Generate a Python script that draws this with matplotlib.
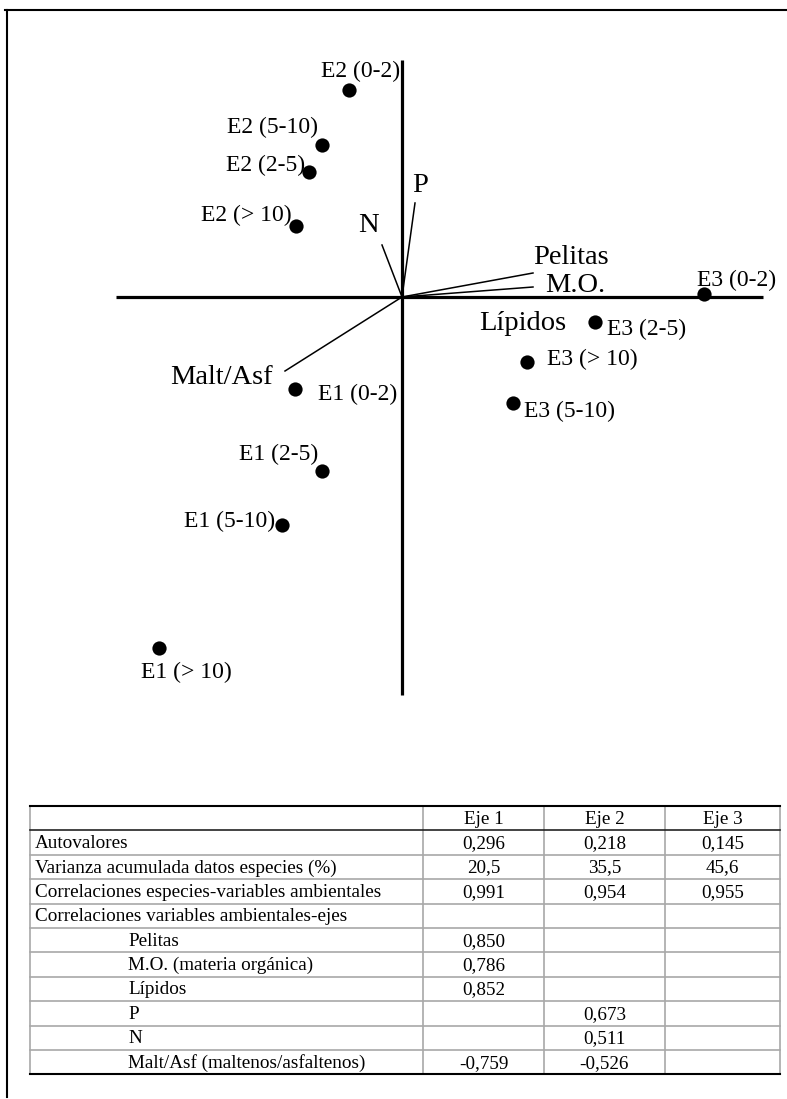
import matplotlib
matplotlib.use("Agg")
import matplotlib.pyplot as plt

plt.rcParams['font.family'] = ['Liberation Serif', 'DejaVu Serif']

# ---------------- data ----------------
site_labels = ["E2 (0-2)", "E2 (5-10)", "E2 (2-5)", "E2 (> 10)",
               "E1 (0-2)", "E1 (2-5)", "E1 (5-10)", "E1 (> 10)",
               "E3 (0-2)", "E3 (2-5)", "E3 (> 10)", "E3 (5-10)"]
site_x = [-0.53, -0.80, -0.93, -1.06, -1.07, -0.80, -1.20, -2.43, 3.02, 1.93, 1.25, 1.11]
site_y = [2.07, 1.52, 1.25, 0.71, -0.92, -1.74, -2.28, -3.51, 0.03, -0.25, -0.65, -1.06]

var_labels = ["P", "N", "Pelitas", "M.O.", "Lípidos", "Malt/Asf"]
var_x = [0.13, -0.20, 1.31, 1.31, 1.00, -1.17]
var_y = [0.94, 0.52, 0.24, 0.10, -0.01, -0.74]

table_cols = ["", "Eje 1", "Eje 2", "Eje 3"]
table_rows = ["Autovalores",
              "Varianza acumulada datos especies (%)",
              "Correlaciones especies-variables ambientales",
              "Correlaciones variables ambientales-ejes",
              "Pelitas",
              "M.O. (materia orgánica)",
              "Lípidos",
              "P",
              "N",
              "Malt/Asf (maltenos/asfaltenos)"]
eje1 = ["0,296", "20,5", "0,991", "", "0,850", "0,786", "0,852", "", "", "-0,759"]
eje2 = ["0,218", "35,5", "0,954", "", "", "", "", "0,673", "0,511", "-0,526"]
eje3 = ["0,145", "45,6", "0,955", "", "", "", "", "", "", ""]
indented = [False, False, False, False, True, True, True, True, True, True]

# ---------------- layout helpers ----------------
W, H = 787, 1099
fig = plt.figure(figsize=(W / 100, H / 100), dpi=100)

# site label placement: (ha, dx px, dy px)
site_lab_pos = [("center", 12, 19), ("right", -4, 18), ("right", -4, 7), ("right", -4, 11),
                ("left", 23, -5), ("right", -4, 17), ("right", -7, 4), ("center", 27, -24),
                ("left", -7, 14), ("left", 12, -7), ("left", 20, 3), ("left", 11, -8)]
var_lab_pos = [("center", 5, 17), ("center", -14, 19), ("left", 0, 15),
               ("left", 12, 2), ("center", 21, -25), ("right", -12, -6)]

# ---------------- biplot axes ----------------
left_px, right_px, top_px, bot_px = 100, 787, 40, 720
ax = fig.add_axes([left_px / W, (H - bot_px) / H, (right_px - left_px) / W, (bot_px - top_px) / H])
ax.set_xlim((left_px - 402) / 100, (right_px - 402) / 100)
ax.set_ylim((297 - bot_px) / 100, (297 - top_px) / 100)
ax.axis("off")

# main axes lines
ax.plot([-2.86, 3.61], [0, 0], color="black", lw=2.3, solid_capstyle="butt", zorder=2)
ax.plot([0, 0], [-3.98, 2.37], color="black", lw=2.3, solid_capstyle="butt", zorder=2)

# environmental vectors
for lab, vx, vy, (ha, dx, dy) in zip(var_labels, var_x, var_y, var_lab_pos):
    ax.plot([0, vx], [0, vy], color="black", lw=1.1, zorder=1)
    ax.annotate(lab, (vx, vy), xytext=(dx, dy), textcoords="offset pixels",
                ha=ha, va="center", fontsize=20.5)

# sites
ax.scatter(site_x, site_y, s=105, color="black", zorder=3, linewidths=0)
for lab, sx, sy, (ha, dx, dy) in zip(site_labels, site_x, site_y, site_lab_pos):
    ax.annotate(lab, (sx, sy), xytext=(dx, dy), textcoords="offset pixels",
                ha=ha, va="center", fontsize=17)

# ---------------- table + frame (pixel coordinates) ----------------
tx = fig.add_axes([0, 0, 1, 1])
tx.set_xlim(0, W)
tx.set_ylim(H, 0)
tx.axis("off")

# outer frame (top and left)
tx.plot([5, W], [10, 10], color="black", lw=1.5)
tx.plot([7, 7], [10, 1097], color="black", lw=1.5)

t_left, t_right = 30, 780
col_x = [t_left, 423, 544, 665, t_right]
top_y = 806
row_h = 24.4
n_rows = len(table_rows) + 1
row_y = [top_y + i * row_h for i in range(n_rows + 1)]

gray = "#a8a8a8"
# inner horizontal grid
for y in row_y[2:-1]:
    tx.plot([t_left, t_right], [y, y], color=gray, lw=1.2)
# vertical lines
for x in col_x:
    tx.plot([x, x], [row_y[0], row_y[-1]], color=gray, lw=1.2)
# black rules
tx.plot([t_left, t_right], [row_y[0], row_y[0]], color="black", lw=1.5)
tx.plot([t_left, t_right], [row_y[1], row_y[1]], color="#222222", lw=1.2)
tx.plot([t_left, t_right], [row_y[-1], row_y[-1]], color="black", lw=1.5)

fs = 13.8
# header
for j in range(1, 4):
    tx.text((col_x[j] + col_x[j + 1]) / 2, (row_y[0] + row_y[1]) / 2 + 1, table_cols[j],
            ha="center", va="center", fontsize=fs)
# rows
for i, lab in enumerate(table_rows):
    yc = (row_y[i + 1] + row_y[i + 2]) / 2 + 1
    tx.text(128 if indented[i] else 35, yc, lab, ha="left", va="center", fontsize=fs)
    for j, col in enumerate([eje1, eje2, eje3]):
        if col[i]:
            tx.text((col_x[j + 1] + col_x[j + 2]) / 2, yc, col[i],
                    ha="center", va="center", fontsize=fs)

fig.savefig("out.png", dpi=100)
